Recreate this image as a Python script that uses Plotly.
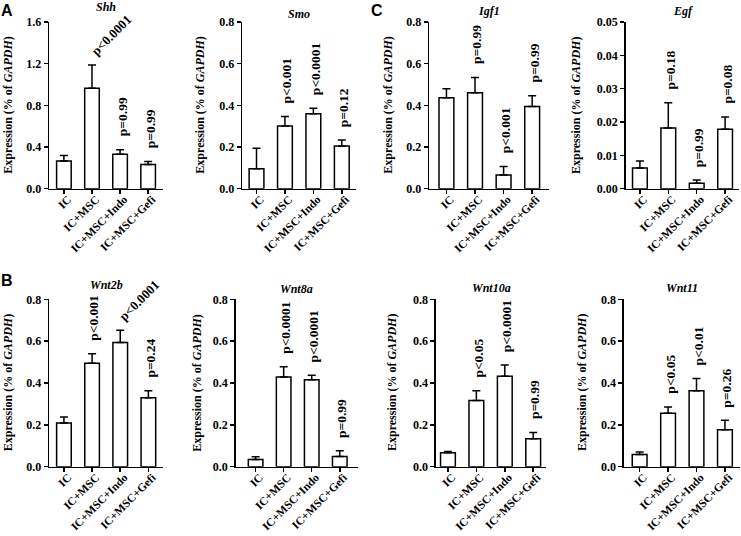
import plotly.graph_objects as go

W, H = 741, 536

categories = ["IC", "IC+MSC", "IC+MSC+Indo", "IC+MSC+Gefi"]

genes = ["Shh", "Smo", "Igf1", "Egf", "Wnt2b", "Wnt8a", "Wnt10a", "Wnt11"]

shh_mean = [0.265, 0.965, 0.33, 0.232]
shh_sem = [0.053, 0.222, 0.045, 0.028]
smo_mean = [0.096, 0.301, 0.36, 0.205]
smo_sem = [0.098, 0.045, 0.026, 0.029]
igf1_mean = [0.437, 0.461, 0.066, 0.395]
igf1_sem = [0.043, 0.073, 0.040, 0.051]
egf_mean = [0.0062, 0.0182, 0.0016, 0.0178]
egf_sem = [0.0021, 0.0076, 0.0010, 0.0037]
wnt2b_mean = [0.209, 0.494, 0.594, 0.33]
wnt2b_sem = [0.028, 0.046, 0.058, 0.033]
wnt8a_mean = [0.035, 0.429, 0.416, 0.049]
wnt8a_sem = [0.013, 0.049, 0.021, 0.027]
wnt10a_mean = [0.067, 0.316, 0.432, 0.134]
wnt10a_sem = [0.006, 0.047, 0.054, 0.030]
wnt11_mean = [0.058, 0.256, 0.363, 0.176]
wnt11_sem = [0.012, 0.029, 0.059, 0.046]

shh_p = ["", "p<0.0001", "p=0.99", "p=0.99"]
smo_p = ["", "p<0.001", "p<0.0001", "p=0.12"]
igf1_p = ["", "p=0.99", "p<0.001", "p=0.99"]
egf_p = ["", "p=0.18", "p=0.99", "p=0.08"]
wnt2b_p = ["", "p<0.001", "p<0.0001", "p=0.24"]
wnt8a_p = ["", "p<0.0001", "p<0.0001", "p=0.99"]
wnt10a_p = ["", "p<0.05", "p<0.0001", "p=0.99"]
wnt11_p = ["", "p<0.05", "p<0.01", "p=0.26"]

y_max = [1.6, 0.8, 0.8, 0.05, 0.8, 0.8, 0.8, 0.8]
y_dtick = [0.4, 0.2, 0.2, 0.01, 0.2, 0.2, 0.2, 0.2]
y_fmt = [".1f", ".1f", ".1f", ".2f", ".1f", ".1f", ".1f", ".1f"]

means = [shh_mean, smo_mean, igf1_mean, egf_mean, wnt2b_mean, wnt8a_mean, wnt10a_mean, wnt11_mean]
sems = [shh_sem, smo_sem, igf1_sem, egf_sem, wnt2b_sem, wnt8a_sem, wnt10a_sem, wnt11_sem]
pvals = [shh_p, smo_p, igf1_p, egf_p, wnt2b_p, wnt8a_p, wnt10a_p, wnt11_p]

# ---- layout / style (pixel geometry) ----
x_dom_px = [(49.3, 163.3), (242.3, 356), (429.3, 549.3), (625.7, 739.3),
            (49.3, 163.3), (235.7, 358), (436, 546), (624, 740)]
y_dom_px = [(22, 188.7)] * 4 + [(299.3, 466.7)] * 4
x_ranges = [(-0.52, 3.54), (-0.5, 3.5), (-0.6, 3.6), (-0.5, 3.5),
            (-0.52, 3.53), (-0.71, 3.65), (-0.42, 3.45), (-0.55, 3.53)]
title_off = [15, 8, 11, 11, 14, 10, 11, 11]
ytitle_off = [41, 42, 41, 49, 41, 39, 44, 42]
slanted = {(0, 1), (4, 2)}

SERIF = "Times New Roman"
SANS = "Arial"


def fx(px):
    return px / W


def fy(py):
    return 1 - py / H


fig = go.Figure()
annotations = []
layout_axes = {}

for i, gene in enumerate(genes):
    n = i + 1
    xa, ya = f"x{n}", f"y{n}"
    fig.add_trace(go.Bar(
        x=categories, y=means[i], xaxis=xa, yaxis=ya, width=0.52,
        marker=dict(color="white", line=dict(color="black", width=1.5)),
        error_y=dict(type="data", array=sems[i], arrayminus=[0] * 4, symmetric=False,
                     color="black", thickness=1.5, width=4),
        hoverinfo="skip",
    ))
    x0, x1 = x_dom_px[i]
    y0, y1 = y_dom_px[i]
    layout_axes[f"xaxis{n}"] = dict(
        domain=[fx(x0), fx(x1)], anchor=ya, type="category",
        categoryorder="array", categoryarray=categories,
        range=list(x_ranges[i]), showline=True, linecolor="black", linewidth=1.6,
        ticks="outside", ticklen=4, tickwidth=1.5, tickcolor="black",
        tickangle=-45, ticklabelstandoff=-6, ticklabelshift=4,
        showgrid=False, zeroline=False, automargin=False,
        tickfont=dict(family=SERIF, size=11.5, color="black", weight="bold"),
    )
    layout_axes[f"yaxis{n}"] = dict(
        domain=[fy(y1), fy(y0)], anchor=xa, range=[0, y_max[i]],
        tick0=0, dtick=y_dtick[i], tickformat=y_fmt[i],
        showline=True, linecolor="black", linewidth=1.6,
        ticks="outside", ticklen=4, tickwidth=1.5, tickcolor="black",
        showgrid=False, zeroline=False, automargin=False,
        tickfont=dict(family=SERIF, size=12, color="black", weight="bold"),
    )
    annotations.append(dict(
        text=f"<b><i>{gene}</i></b>", xref="paper", yref="paper",
        x=fx((x0 + x1) / 2), y=fy(y0 - title_off[i]), xanchor="center", yanchor="middle",
        showarrow=False, font=dict(family=SERIF, size=12, color="black"),
    ))
    annotations.append(dict(
        text="<b>Expression (% of <i>GAPDH</i>)</b>", xref="paper", yref="paper",
        x=fx(x0 - ytitle_off[i]), y=fy((y0 + y1) / 2), xanchor="center", yanchor="middle",
        textangle=-90, showarrow=False, font=dict(family=SERIF, size=12, color="black"),
    ))
    for j, txt in enumerate(pvals[i]):
        if not txt:
            continue
        top = means[i][j] + sems[i][j]
        if (i, j) in slanted:
            annotations.append(dict(
                text=f"<b>{txt}</b>", xref=xa, yref=ya, x=categories[j], y=top,
                xanchor="left", yanchor="bottom", xshift=-7, yshift=4, textangle=-45,
                showarrow=False, font=dict(family=SERIF, size=13, color="black"),
            ))
        else:
            annotations.append(dict(
                text=f"<b>{txt}</b>", xref=xa, yref=ya, x=categories[j], y=top,
                xanchor="center", yanchor="bottom", xshift=2, yshift=11, textangle=-90,
                showarrow=False, font=dict(family=SERIF, size=13.5, color="black"),
            ))

for letter, (lx, ly) in {"A": (7, 10), "B": (7, 280), "C": (377, 10)}.items():
    annotations.append(dict(
        text=f"<b>{letter}</b>", xref="paper", yref="paper", x=fx(lx), y=fy(ly),
        xanchor="center", yanchor="middle", showarrow=False,
        font=dict(family=SANS, size=16, color="black"),
    ))

fig.update_layout(
    width=W, height=H, autosize=False,
    margin=dict(l=0, r=0, t=0, b=0, pad=0),
    paper_bgcolor="white", plot_bgcolor="white",
    font=dict(family=SERIF, color="black"),
    showlegend=False, annotations=annotations, bargap=0,
    **layout_axes,
)

fig.write_html(
    "out.html",
    config={"displayModeBar": False, "staticPlot": True},
    post_script="document.body.style.margin='0';document.body.style.padding='0';"
                "document.body.style.overflow='hidden';",
)
